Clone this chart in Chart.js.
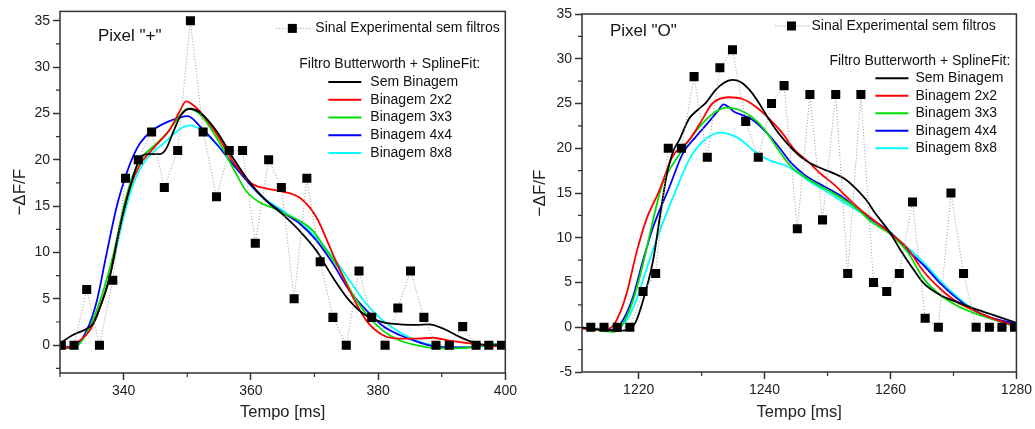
<!DOCTYPE html>
<html>
<head>
<meta charset="utf-8">
<script src="https://cdn.jsdelivr.net/npm/chart.js@4.4.1/dist/chart.umd.min.js"></script>
<style>
html, body { margin: 0; padding: 0; background: #fff; }
#wrap { position: relative; width: 1035px; height: 429px; }
#leftBox { position: absolute; left: 0; top: 0; }
#rightBox { position: absolute; left: 520px; top: 0; }
</style>
</head>
<body>
<div id="wrap">
  <div id="leftBox"><canvas id="leftChart" width="520" height="429"></canvas></div>
  <div id="rightBox"><canvas id="rightChart" width="515" height="429"></canvas></div>
</div>
<script>
// ---- Pixel "+" (left panel) ----
const leftExpTime = [330.2, 332.2, 334.2, 336.2, 338.3, 340.3, 342.3, 344.4, 346.4, 348.5, 350.5, 352.5,
  354.6, 356.6, 358.7, 360.7, 362.8, 364.8, 366.8, 368.8, 370.9, 372.9, 375.0, 377.0, 379.0, 381.1,
  383.1, 385.1, 387.2, 389.1, 391.2, 393.3, 395.4, 397.4, 399.4];
const leftExpValues = [0, 0, 6, 0, 7, 18, 20, 23, 17, 21, 35, 23, 16, 21, 21, 11, 20, 17, 5, 18, 9, 3,
  0, 8, 3, 0, 4, 8, 3, 0, 0, 2, 0, 0, 0];

const leftSemBinagem = [[330, 0.2], [332, 1.1], [334, 1.7], [335.2, 2.3], [336.3, 4.1], [337.8, 7.3],
  [339.4, 12.7], [341, 17], [342.6, 20.2], [343.8, 20.6], [345.7, 20.6], [346.7, 21.2], [347.8, 23],
  [349, 24.8], [350.4, 25.5], [352, 25.1], [354.6, 23.1], [357.2, 20.2], [360, 17.4], [362.4, 15.6],
  [365, 14.1], [367.7, 12.3], [370.3, 10.2], [372.9, 7.3], [375.5, 4.8], [378.1, 3.2], [380.7, 2.5],
  [383.4, 2.25], [386, 2.2], [388, 2.25], [390.2, 1.8], [392.8, 0.9], [395.4, 0.2], [397.5, 0], [400, 0]];
const leftBin2 = [[330, -0.2], [331, -0.3], [333.1, 0.5], [334.7, 1.6], [336.3, 4.1], [337.8, 7.3],
  [339.4, 12.7], [341, 17], [342.6, 19.5], [344.1, 20.8], [345.7, 22], [347.3, 23.3], [348.8, 25.2],
  [349.8, 26.3], [352, 25.2], [354.6, 22.8], [357.2, 19.8], [360, 17.5], [362.4, 16.9], [364.8, 16.6],
  [367.7, 15.9], [370.3, 13.8], [372.9, 9.8], [375.5, 5.9], [378.1, 2.7], [380.7, 1.1], [383.4, 0.7],
  [386, 0.7], [388.6, 0.8], [391.2, 0.5], [393.8, 0.25], [396.4, 0], [400, -0.2]];
const leftBin3 = [[330, -0.2], [332, -0.35], [334.2, 1.3], [336.3, 4.8], [338.4, 9.8], [340, 14.9],
  [341.5, 18.4], [343.1, 20.4], [344.6, 21.4], [346.7, 22.8], [348.8, 24.7], [350.1, 25.5], [352, 24.9],
  [354.6, 22.4], [357.2, 19.1], [359.3, 16.6], [361.4, 15.4], [363.5, 14.8], [365.6, 14.1], [367.7, 13.4],
  [369.8, 12.3], [371.9, 10.2], [374, 8.1], [376, 5.5], [378.1, 3.4], [380.7, 1.6], [383.4, 0.5],
  [386, 0], [388.6, -0.3], [391.2, -0.35], [393.8, -0.3], [396.9, 0], [400, 0.2]];
const leftBin4 = [[330, -0.2], [332, -0.2], [334.2, 1.6], [335.8, 4.8], [337.3, 9.8], [338.9, 14.9],
  [340.4, 18.4], [341.5, 20.4], [342.6, 21.8], [344.6, 23.2], [347.3, 24.2], [350.1, 24.7], [352, 23.6],
  [354.6, 21.7], [357.2, 19.5], [359.8, 17.4], [362.4, 15.6], [365, 14.3], [367.7, 13.1], [370.3, 11.3],
  [372.9, 8.8], [375.5, 5.9], [378.1, 3.8], [380.7, 2.1], [383.4, 1.1], [386, 0.4], [388.6, -0.1],
  [391.2, -0.25], [393.8, -0.25], [396.9, 0], [400, 0.2]];
const leftBin8 = [[330, -0.35], [332, -0.2], [334.2, 1.3], [336.3, 4.1], [338.4, 9.1], [340, 13.8],
  [341.5, 17.4], [343.1, 19.6], [344.6, 20.8], [346.7, 22], [348.8, 23.3], [350.4, 23.7], [352, 23.3],
  [354.6, 21.7], [357.2, 19.5], [359.8, 17.4], [362.4, 15.7], [365, 14.5], [367.7, 13.2], [370.3, 11.6],
  [372.9, 9.5], [375.5, 7], [378.1, 4.5], [380.7, 2.7], [383.4, 1.4], [386, 0.5], [388.6, 0],
  [391.2, -0.25], [393.8, -0.25], [396.9, -0.1], [400, 0.2]];

// ---- Pixel "O" (right panel) ----
const rightExpTime = [1212.4, 1214.5, 1216.6, 1218.6, 1220.7, 1222.7, 1224.7, 1226.8, 1228.8, 1230.9,
  1232.9, 1234.9, 1237.0, 1239.0, 1241.1, 1243.1, 1245.2, 1247.2, 1249.2, 1251.3, 1253.2, 1255.3,
  1257.3, 1259.4, 1261.4, 1263.5, 1265.5, 1267.6, 1269.6, 1271.6, 1273.6, 1275.7, 1277.7, 1279.7];
const rightExpValues = [0, 0, 0, 0, 4, 6, 20, 20, 28, 19, 29, 31, 23, 19, 25, 27, 11, 26, 12, 26, 6, 26,
  5, 4, 6, 14, 1, 0, 15, 6, 0, 0, 0, 0];

const rightSemBinagem = [[1211, -0.05], [1214.4, -0.3], [1216.5, -0.4], [1218.1, -0.3], [1219.4, 0.4],
  [1220.7, 3], [1222.3, 7.5], [1223.3, 12], [1224.4, 16.8], [1225.4, 19.5], [1226.5, 21], [1228, 23.3],
  [1229.4, 24.3], [1230.7, 25.1], [1232.2, 26.5], [1233.5, 27.3], [1234.9, 27.65], [1236.2, 27.4],
  [1237.5, 26.6], [1238.8, 25.4], [1240.1, 23.9], [1242.2, 21.7], [1244.3, 20], [1246.4, 18.7],
  [1248.5, 17.9], [1250.6, 17.3], [1252.7, 16.6], [1254.5, 15.5], [1256.4, 14.0], [1257.4, 12.9],
  [1259.8, 10.7], [1261.6, 8.6], [1263.7, 6.4], [1265.3, 4.9], [1267.9, 3.6], [1270.6, 2.8],
  [1273.2, 2.1], [1275.8, 1.5], [1280, 0.5]];
const rightBin2 = [[1211, -0.15], [1214.4, -0.3], [1215.4, -0.15], [1216.5, 0.8], [1218.1, 3.8],
  [1219.6, 8.2], [1221.2, 12.0], [1223.3, 15.3], [1225.4, 19.1], [1228, 20.9], [1230.1, 23.2],
  [1231.7, 25.0], [1234.3, 25.7], [1236.5, 25.5], [1238.5, 24.7], [1240.6, 23.4], [1242.7, 21.8],
  [1244.8, 19.8], [1246.9, 18.5], [1249, 17.1], [1251.1, 15.9], [1252.7, 14.8], [1254.8, 13.4],
  [1256.9, 12.2], [1259.8, 10.6], [1262.7, 8.8], [1265.3, 6.2], [1267.9, 4.3], [1270.6, 2.8],
  [1273.2, 1.9], [1275.8, 1.1], [1280, 0.1]];
const rightBin3 = [[1211, -0.05], [1214.4, -0.4], [1216, -0.5], [1217.5, 0.4], [1219.1, 3],
  [1220.7, 7.1], [1222.3, 12], [1223.8, 16.1], [1225.9, 18.7], [1228, 20.9], [1230.7, 23.2],
  [1232.3, 24.1], [1233.8, 24.55], [1235.9, 24.3], [1238, 23.5], [1240.1, 22], [1242.2, 19.8],
  [1244.3, 17.9], [1246.4, 16.8], [1248.5, 15.9], [1250.6, 15.1], [1252.7, 14.2], [1254.8, 13.2],
  [1256.9, 11.8], [1259.8, 10.5], [1262.7, 8.4], [1265.3, 5.4], [1267.9, 3.6], [1270.6, 2.4],
  [1273.2, 1.6], [1275.8, 1.0], [1280, 0]];
const rightBin4 = [[1211, -0.05], [1214.4, -0.3], [1216, -0.3], [1217.5, 0.8], [1219.1, 3.4],
  [1220.7, 7.5], [1222.3, 11.2], [1224.9, 15.7], [1227, 19.4], [1229.1, 21.3], [1231.2, 23],
  [1232.5, 24.1], [1233.5, 24.9], [1234.3, 24.6], [1235.1, 24.1], [1236.5, 23.7], [1238, 23.2],
  [1240.1, 21.9], [1242.2, 20.2], [1244.3, 18.3], [1246.4, 17], [1248.5, 16.1], [1250.6, 15.3],
  [1252.7, 14.4], [1254.8, 13.2], [1256.9, 12.1], [1259.8, 10.7], [1262.7, 8.6], [1265.3, 6.9],
  [1267.9, 4.9], [1270.6, 3.2], [1273.2, 1.9], [1275.8, 1.1], [1280, 0.4]];
const rightBin8 = [[1211, -0.05], [1214.4, -0.25], [1216.5, -0.15], [1218.1, 0.8], [1219.6, 3],
  [1221.2, 6.4], [1222.8, 9.7], [1224.4, 12.7], [1225.9, 15.3], [1228, 18.7], [1230.1, 20.7],
  [1233, 21.75], [1235.9, 21.1], [1238.5, 19.6], [1240.6, 18.7], [1243.2, 18.1], [1244.8, 17.5],
  [1246.9, 16.4], [1249, 15.5], [1251.1, 14.6], [1253.2, 13.7], [1255.3, 12.8], [1257.4, 11.8],
  [1259.8, 10.7], [1262.7, 8.9], [1265.3, 7.2], [1267.9, 5.2], [1270.6, 3.4], [1273.2, 2.0],
  [1275.8, 1.1], [1280, 0.2]];

// ---- ticks ----
const leftXTicks = [340, 360, 380, 400];
const leftXMinor = [330, 350, 370, 390];
const leftYTicks = [0, 5, 10, 15, 20, 25, 30, 35];
const leftYMinor = [-2.5, 2.5, 7.5, 12.5, 17.5, 22.5, 27.5, 32.5];
const rightXTicks = [1220, 1240, 1260, 1280];
const rightXMinor = [1230, 1250, 1270];
const rightYTicks = [-5, 0, 5, 10, 15, 20, 25, 30, 35];
const rightYMinor = [-2.5, 2.5, 7.5, 12.5, 17.5, 22.5, 27.5, 32.5];

const seriesNames = ['Sinal Experimental sem filtros', 'Sem Binagem', 'Binagem 2x2', 'Binagem 3x3',
  'Binagem 4x4', 'Binagem 8x8'];
const seriesColors = ['#000000', '#000000', '#ff0000', '#00e000', '#0000ff', '#00ffff'];

const FONT = '"Liberation Sans", Arial, sans-serif';

// outer frame plus the small minor ticks
const frameTicks = {
  id: 'frameTicks',
  afterDraw(chart, args, opts) {
    const { ctx, chartArea: a } = chart;
    const x = chart.scales.x, y = chart.scales.y;
    ctx.save();
    ctx.strokeStyle = '#333';
    ctx.lineWidth = 1.5;
    ctx.strokeRect(a.left, a.top, a.right - a.left, a.bottom - a.top);
    ctx.lineWidth = 1.2;
    ctx.beginPath();
    opts.xMinor.forEach(v => {
      const px = x.getPixelForValue(v);
      ctx.moveTo(px, a.bottom);
      ctx.lineTo(px, a.bottom + 4);
    });
    opts.yMinor.forEach(v => {
      const py = y.getPixelForValue(v);
      ctx.moveTo(a.left, py);
      ctx.lineTo(a.left - 4, py);
    });
    ctx.stroke();
    ctx.restore();
  }
};

// legend box inside the plot, Origin style
const boxLegend = {
  id: 'boxLegend',
  afterDraw(chart, args, o) {
    const { ctx, chartArea: a } = chart;
    const ds = chart.data.datasets;
    ctx.save();
    ctx.textBaseline = 'middle';
    ctx.fillStyle = '#111';
    ctx.font = '17px ' + FONT;
    ctx.fillText(o.pixelLabel, a.left + o.labelX, a.top + o.labelY);

    ctx.font = '14px ' + FONT;
    const mx = a.right - o.expX, my = a.top + o.expY;
    ctx.strokeStyle = '#888';
    ctx.lineWidth = 1;
    ctx.setLineDash([1, 2]);
    ctx.beginPath();
    ctx.moveTo(mx - 16, my);
    ctx.lineTo(mx + 18, my);
    ctx.stroke();
    ctx.setLineDash([]);
    ctx.fillStyle = '#000';
    ctx.fillRect(mx - 4.5, my - 4.5, 9, 9);
    ctx.fillStyle = '#111';
    ctx.fillText(ds[0].label, a.right - o.expText, my);
    ctx.fillText(o.heading, a.right - o.headX, a.top + o.headY);

    for (let i = 1; i < ds.length; i++) {
      const ry = a.top + o.rowY + (i - 1) * o.rowStep;
      const lx = a.right - o.lineX;
      ctx.strokeStyle = ds[i].borderColor;
      ctx.lineWidth = 2;
      ctx.beginPath();
      ctx.moveTo(lx, ry);
      ctx.lineTo(lx + 33, ry);
      ctx.stroke();
      ctx.fillStyle = '#111';
      ctx.fillText(ds[i].label, a.right - o.textX, ry);
    }
    ctx.restore();
  }
};

function buildDatasets(expTime, expValues, curves) {
  const sets = [{
    label: seriesNames[0],
    data: expTime.map((t, i) => ({ x: t, y: expValues[i] })),
    showLine: true,
    borderColor: '#999',
    borderWidth: 1,
    borderDash: [1, 2],
    pointStyle: 'rect',
    pointRadius: 6.4,
    pointBackgroundColor: '#000',
    pointBorderWidth: 0
  }];
  curves.forEach((c, i) => {
    sets.push({
      label: seriesNames[i + 1],
      data: c.map(p => ({ x: p[0], y: p[1] })),
      borderColor: seriesColors[i + 1],
      borderWidth: 1.8,
      pointRadius: 0,
      cubicInterpolationMode: 'monotone'
    });
  });
  return sets;
}

function makeChart(id, cfg) {
  return new Chart(document.getElementById(id).getContext('2d'), {
    type: 'line',
    data: { datasets: buildDatasets(cfg.expTime, cfg.expValues, cfg.curves) },
    options: {
      responsive: false,
      animation: false,
      events: [],
      layout: { padding: cfg.padding },
      plugins: {
        legend: { display: false },
        tooltip: { enabled: false },
        frameTicks: { xMinor: cfg.xMinor, yMinor: cfg.yMinor },
        boxLegend: cfg.legend
      },
      scales: {
        x: {
          type: 'linear',
          min: cfg.xMin, max: cfg.xMax,
          afterBuildTicks: s => { s.ticks = cfg.xTicks.map(v => ({ value: v })); },
          afterFit: s => { s.height = cfg.xHeight; },
          ticks: { font: { family: FONT, size: 14 }, color: '#222', padding: 3, maxRotation: 0,
            callback: v => String(v) },
          grid: { drawOnChartArea: false, drawTicks: true, tickLength: 7, tickColor: '#333', tickWidth: 1.5 },
          border: { display: false },
          title: { display: true, text: 'Tempo [ms]', color: '#222',
            font: { family: FONT, size: 16.5 }, padding: { top: 0, bottom: 7 } }
        },
        y: {
          type: 'linear',
          min: cfg.yMin, max: cfg.yMax,
          afterBuildTicks: s => { s.ticks = cfg.yTicks.map(v => ({ value: v })); },
          afterFit: s => { s.width = cfg.yWidth; },
          ticks: { font: { family: FONT, size: 14 }, color: '#222', padding: 3,
            callback: v => String(v) },
          grid: { drawOnChartArea: false, drawTicks: true, tickLength: 7, tickColor: '#333', tickWidth: 1.5 },
          border: { display: false },
          title: { display: true, text: '\u2212\u0394F/F', color: '#222',
            font: { family: FONT, size: 17 }, padding: { top: 10, bottom: 0 } }
        }
      }
    },
    plugins: [frameTicks, boxLegend]
  });
}

makeChart('leftChart', {
  expTime: leftExpTime, expValues: leftExpValues,
  curves: [leftSemBinagem, leftBin2, leftBin3, leftBin4, leftBin8],
  xMin: 330, xMax: 400, yMin: -3, yMax: 36,
  xTicks: leftXTicks, xMinor: leftXMinor, yTicks: leftYTicks, yMinor: leftYMinor,
  padding: { left: 0, right: 13, top: 10, bottom: 0 },
  xHeight: 56, yWidth: 60,
  legend: { pixelLabel: 'Pixel "+"', labelX: 38, labelY: 25,
    expX: 213, expY: 17, expText: 190,
    heading: 'Filtro Butterworth + SplineFit:', headX: 206, headY: 52.7,
    lineX: 177, textX: 135, rowY: 70.7, rowStep: 17.75 }
});

makeChart('rightChart', {
  expTime: rightExpTime, expValues: rightExpValues,
  curves: [rightSemBinagem, rightBin2, rightBin3, rightBin4, rightBin8],
  xMin: 1211, xMax: 1280, yMin: -5, yMax: 35,
  xTicks: rightXTicks, xMinor: rightXMinor, yTicks: rightYTicks, yMinor: rightYMinor,
  padding: { left: 0, right: 15, top: 14, bottom: 0 },
  xHeight: 57, yWidth: 62,
  legend: { pixelLabel: 'Pixel "O"', labelX: 28, labelY: 17.7,
    expX: 225, expY: 12, expText: 205,
    heading: 'Filtro Butterworth + SplineFit:', headX: 187, headY: 47,
    lineX: 141, textX: 101, rowY: 64.3, rowStep: 17.5 }
});
</script>
</body>
</html>
